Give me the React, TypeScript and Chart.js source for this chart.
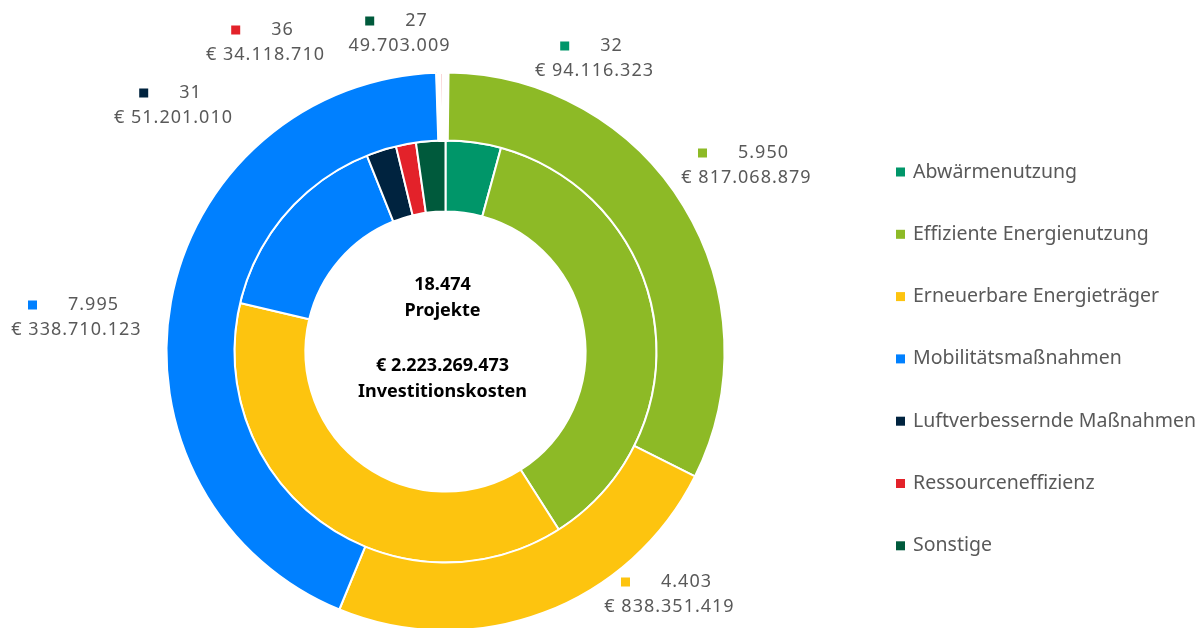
import React, { useEffect, useRef } from "react";
import { Chart, registerables } from "chart.js";

Chart.register(...registerables);

// ---- data ----
const categories = [
  "Abwärmenutzung",
  "Effiziente Energienutzung",
  "Erneuerbare Energieträger",
  "Mobilitätsmaßnahmen",
  "Luftverbessernde Maßnahmen",
  "Ressourceneffizienz",
  "Sonstige",
];
const projects = [32, 5950, 4403, 7995, 31, 36, 27];
const investments = [94116323, 817068879, 838351419, 338710123, 51201010, 34118710, 49703009];
const euroPrefix = [true, true, true, true, true, true, false];
const totalProjectsLabel = "18.474";
const totalInvestLabel = "€ 2.223.269.473";

// ---- styles / layout ----
const colors = ["#009669", "#8DBA26", "#FDC40F", "#0080FF", "#00233F", "#E3222A", "#005A3C"];
// label block centers relative to doughnut centre
const labelOffsets: [number, number][] = [
  [149, -293],
  [301, -186],
  [224, 243],
  [-369, -34],
  [-272, -246],
  [-180, -309],
  [-46, -318],
];

const fmt = (v: number) => String(v).replace(/\B(?=(\d{3})+(?!\d))/g, ".");

const FONT = "'Noto Sans', 'Open Sans', sans-serif";
const projectTotal = projects.reduce((a, b) => a + b, 0);

const overlayPlugin = {
  id: "overlay",
  afterDraw(chart: any) {
    const ctx = chart.ctx as CanvasRenderingContext2D & { letterSpacing?: string };
    const arc = chart.getDatasetMeta(0).data[0];
    const cx = arc.x;
    const cy = arc.y;
    ctx.save();
    // centre text
    ctx.fillStyle = "#000000";
    ctx.textAlign = "center";
    ctx.textBaseline = "middle";
    ctx.font = `bold 18px ${FONT}`;
    ctx.fillText(totalProjectsLabel, cx - 3, cy - 67);
    ctx.fillText("Projekte", cx - 3, cy - 41);
    ctx.fillText(totalInvestLabel, cx - 3, cy + 14);
    ctx.fillText("Investitionskosten", cx - 3, cy + 40);

    // data labels
    ctx.font = `18px ${FONT}`;
    ctx.letterSpacing = "1px";
    categories.forEach((_, i) => {
      const [dx, dy] = labelOffsets[i];
      const bx = cx + dx;
      const by = cy + dy;
      const v1 = fmt(projects[i]);
      const v2 = (euroPrefix[i] ? "€ " : "") + fmt(investments[i]);
      const tw = ctx.measureText(v1).width;
      const total = 40 + tw;
      const x0 = bx - total / 2 - 3;
      const y1 = by - 12.5;
      const y2 = by + 12.5;
      ctx.fillStyle = colors[i];
      ctx.fillRect(x0, y1 - 4.5, 9, 9);
      ctx.fillStyle = "#595959";
      ctx.textAlign = "left";
      ctx.fillText(v1, x0 + 40, y1);
      ctx.textAlign = "center";
      ctx.fillText(v2, bx, y2);
    });

    // legend
    ctx.letterSpacing = "0px";
    ctx.textAlign = "left";
    ctx.font = `19.5px ${FONT}`;
    categories.forEach((c, i) => {
      const y = 172 + i * 62.3;
      ctx.fillStyle = colors[i];
      ctx.fillRect(896, y - 4.5, 9, 9);
      ctx.fillStyle = "#595959";
      ctx.fillText(c, 913, y);
    });
    ctx.restore();
  },
};

export default function App() {
  const ref = useRef<HTMLCanvasElement | null>(null);
  useEffect(() => {
    if (!ref.current) return;
    Chart.defaults.font.family = FONT;
    const chart = new Chart(ref.current, {
      type: "doughnut",
      data: {
        labels: categories,
        datasets: [
          {
            label: "Projekte",
            data: projects,
            backgroundColor: colors,
            borderColor: "#ffffff",
            borderWidth: (c: any) => (projects[c.dataIndex] / projectTotal < 0.005 ? 3 : 2),
            hoverBorderWidth: 0,
            weight: 68,
            hoverOffset: 0,
          },
          {
            label: "Investitionskosten",
            data: investments,
            backgroundColor: colors,
            borderColor: "#ffffff",
            borderWidth: 2,
            hoverBorderWidth: 0,
            weight: 71,
            hoverOffset: 0,
          },
        ],
      },
      options: {
        animation: false,
        responsive: false,
        cutout: "50.2%",
        layout: { padding: { left: 165, top: 71, right: 472, bottom: 28 } },
        plugins: {
          legend: { display: false },
          tooltip: { enabled: false },
          title: { display: false },
        },
        events: [],
      },
      plugins: [overlayPlugin],
    } as any);
    return () => chart.destroy();
  }, []);
  return (
    <div
      style={{
        position: "fixed",
        top: 0,
        left: 0,
        width: 1198,
        height: 628,
        overflow: "hidden",
        background: "#ffffff",
      }}
    >
      <canvas ref={ref} width={1198} height={660} style={{ width: 1198, height: 660, display: "block" }} />
    </div>
  );
}
